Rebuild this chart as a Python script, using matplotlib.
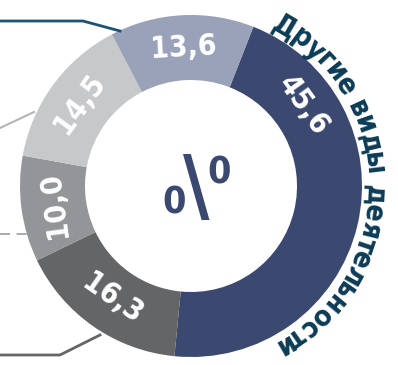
import numpy as np
import matplotlib.pyplot as plt
from matplotlib.font_manager import FontProperties
from matplotlib.textpath import TextToPath

values = [45.6, 16.3, 10.0, 14.5, 13.6]
labels = ['45,6', '16,3', '10,0', '14,5', '13,6']
colors = ['#3b4870', '#646567', '#939598', '#c7c8ca', '#9aa2b9']
label_frac = [0.2, 0.5, 0.5, 0.5, 0.5]   # where along each wedge the number sits
label_flip = [False, True, False, False, False]
arc_title = 'Другие виды деятельности'

FONT = dict(family='DejaVu Sans', stretch='condensed', weight='bold')

cx, cy = 191, -186
r_out, r_in = 171, 106
start = 68.6

fig = plt.figure(figsize=(3.98, 3.65), dpi=100)
ax = fig.add_axes([0, 0, 1, 1])
ax.pie(values, colors=colors, startangle=start, counterclock=False,
       radius=r_out, center=(cx, cy),
       wedgeprops=dict(width=r_out - r_in, linewidth=0))
ax.set_xlim(0, 398)
ax.set_ylim(-365, 0)
ax.set_aspect('equal')
ax.axis('off')

# numbers inside the ring, turned along the circle
total = sum(values)
cum = np.cumsum([0] + values[:-1])
r_lab = 138
for v, c0, lab, f, flip in zip(values, cum, labels, label_frac, label_flip):
    th = (90 - start) + (c0 + f * v) / total * 360
    t = np.radians(th)
    rot = 180 - th if flip else -th
    ax.text(cx + r_lab * np.sin(t), cy + r_lab * np.cos(t), lab,
            rotation=rot, rotation_mode='anchor', ha='center', va='center',
            color='white', fontsize=21.5, **FONT)

# percent sign in the hole
navy = '#3b4870'
ax.text(174, -203, '0', fontsize=27, color=navy,
        ha='center', va='center', **FONT)
ax.text(219, -173, '0', fontsize=27, color=navy,
        ha='center', va='center', **FONT)
ax.text(196, -191, '\\', fontsize=58, color=navy, ha='center', va='center',
        **FONT)

# title bent round the right side of the ring
fp = FontProperties(size=20.5, **FONT)
t2p = TextToPath()


def text_w(s):
    return t2p.get_text_width_height_descent(s, fp, ismath=False)[0] * 100 / 72


centers = []
for i, ch in enumerate(arc_title):
    centers.append(text_w(arc_title[:i + 1]) - text_w(ch) / 2)
centers = np.array(centers)
th0, th1 = 30.5, 150.0
angles = th0 + (centers - centers[0]) / (centers[-1] - centers[0]) * (th1 - th0)
r_base = 176
for ch, th in zip(arc_title, angles):
    if ch == ' ':
        continue
    t = np.radians(th)
    ax.text(cx + r_base * np.sin(t), cy + r_base * np.cos(t), ch,
            rotation=-th, rotation_mode='anchor', ha='center', va='baseline',
            fontproperties=fp, color='#0c3b56')

# leader lines to the left margin
ax.plot([0, 83, 120], [-21, -21, -31], color='#1d5273', lw=2)
ax.plot([0, 34], [-128, -112], color='#b3b5b8', lw=1.5)
ax.plot([0, 27], [-234, -234], color='#9a9b9e', lw=1.2, dashes=(6, 4))
ax.plot([0, 60, 100], [-355, -355, -335], color='#646567', lw=2)

fig.savefig('out.png', dpi=100)
